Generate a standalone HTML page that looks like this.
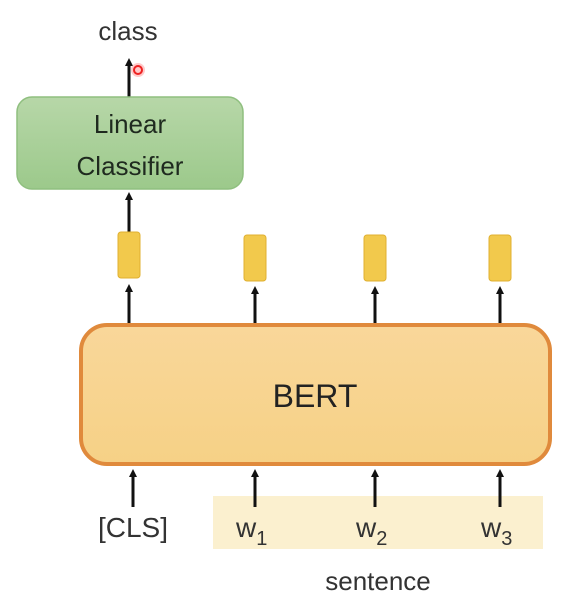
<!DOCTYPE html>
<html><head><style>
body{margin:0;background:#fff;}
svg{display:block;font-family:"Liberation Sans","DejaVu Sans",sans-serif;}
</style></head><body>
<svg width="570" height="606" viewBox="0 0 570 606" xmlns="http://www.w3.org/2000/svg">
<defs>
<marker id="a" markerWidth="8" markerHeight="8" refX="4" refY="4" orient="auto" markerUnits="userSpaceOnUse">
<path d="M0,0 L8,4 L0,8 z" fill="#111"/></marker>
<linearGradient id="g" x1="0" y1="0" x2="0" y2="1"><stop offset="0" stop-color="#b7d7a8"/><stop offset="1" stop-color="#9cc98b"/></linearGradient>
<linearGradient id="o" x1="0" y1="0" x2="0" y2="1"><stop offset="0" stop-color="#f9d79a"/><stop offset="1" stop-color="#f6d186"/></linearGradient>
</defs>
<text x="128" y="40" font-size="26" text-anchor="middle" fill="#333">class</text>
<line x1="129" y1="97" x2="129" y2="62" stroke="#111" stroke-width="3" marker-end="url(#a)"/>
<circle cx="138" cy="70" r="7" fill="#f77" opacity="0.4"/>
<circle cx="138" cy="70" r="4" fill="none" stroke="#e22" stroke-width="2"/>
<rect x="17" y="97" width="226" height="92" rx="15" fill="url(#g)" stroke="#8fbf7f" stroke-width="1.5"/>
<text x="130" y="133" font-size="26" text-anchor="middle" fill="#1f2a1f">Linear</text>
<text x="130" y="175" font-size="26" text-anchor="middle" fill="#1f2a1f">Classifier</text>
<line x1="129" y1="232" x2="129" y2="196" stroke="#111" stroke-width="3" marker-end="url(#a)"/>
<g fill="#f2c94c" stroke="#e0b030" stroke-width="1">
<rect x="118" y="232" width="22" height="46" rx="3"/>
<rect x="244" y="235" width="22" height="46" rx="3"/>
<rect x="364" y="235" width="22" height="46" rx="3"/>
<rect x="489" y="235" width="22" height="46" rx="3"/>
</g>
<g stroke="#111" stroke-width="3" marker-end="url(#a)">
<line x1="129" y1="323" x2="129" y2="288"/>
<line x1="255" y1="323" x2="255" y2="290"/>
<line x1="375" y1="323" x2="375" y2="290"/>
<line x1="500" y1="323" x2="500" y2="290"/>
</g>
<rect x="81" y="325" width="469" height="139" rx="26" fill="url(#o)" stroke="#e08a3c" stroke-width="4"/>
<text x="315" y="407" font-size="32" text-anchor="middle" fill="#222">BERT</text>
<rect x="213" y="496" width="330" height="53" fill="#fbf0cf"/>
<g stroke="#111" stroke-width="3" marker-end="url(#a)">
<line x1="133" y1="507" x2="133" y2="473"/>
<line x1="255" y1="507" x2="255" y2="473"/>
<line x1="375" y1="507" x2="375" y2="473"/>
<line x1="500" y1="507" x2="500" y2="473"/>
</g>
<text x="133" y="537" font-size="28" text-anchor="middle" fill="#333">[CLS]</text>
<g font-size="28" fill="#333">
<text x="236" y="537">w<tspan font-size="20" dy="8">1</tspan></text>
<text x="356" y="537">w<tspan font-size="20" dy="8">2</tspan></text>
<text x="481" y="537">w<tspan font-size="20" dy="8">3</tspan></text>
</g>
<text x="378" y="590" font-size="26" text-anchor="middle" fill="#333">sentence</text>
</svg>
</body></html>
